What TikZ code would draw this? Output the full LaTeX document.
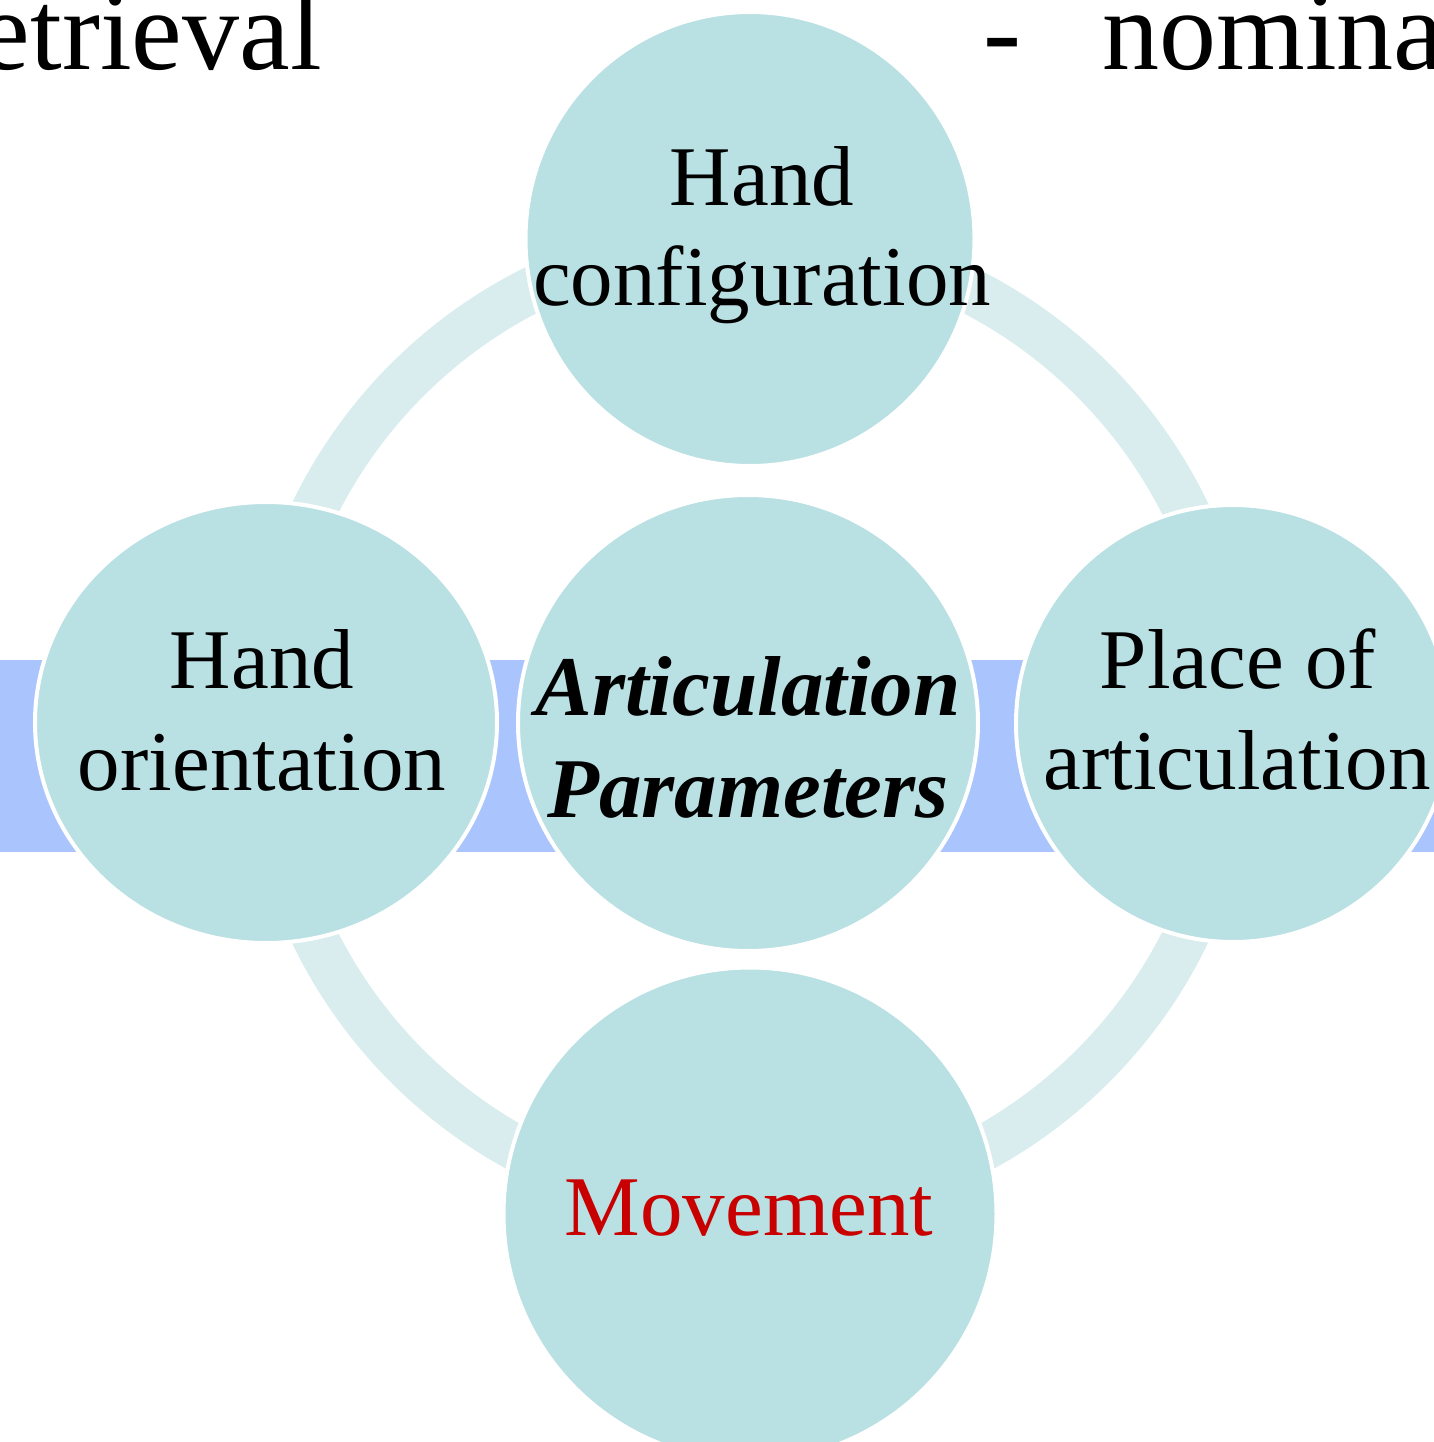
\documentclass[tikz,border=0pt]{standalone}
\usepackage{fontspec}
\setmainfont{Liberation Serif}
\usetikzlibrary{shapes.geometric}
\definecolor{bubble}{HTML}{B9E0E3}
\definecolor{ringcol}{HTML}{DAEDEE}
\definecolor{bandcol}{HTML}{AAC5FD}
\definecolor{movred}{HTML}{C80000}
\tikzset{
  bub/.style={ellipse, fill=bubble, draw=white, line width=2pt, inner sep=0pt},
  lbl/.style={anchor=base, inner sep=0pt, font=\fontsize{42.5}{50}\selectfont},
  blbl/.style={anchor=base, inner sep=0pt, font=\fontsize{42.5}{50}\selectfont\bfseries\itshape},
  toptext/.style={inner sep=0pt, font=\fontsize{57}{62}\selectfont}
}
\begin{document}
\begin{tikzpicture}[x=0.5pt,y=-0.5pt]
\useasboundingbox (0,0) rectangle (1434,1442);
% top running text
\node[toptext, anchor=base east] (t1) at (322,69) {etrieval};
\node[toptext, anchor=base west] (t2) at (983,69) {-};
\node[toptext, anchor=base west] (t3) at (1102,69) {nomina};
% band
\fill[bandcol] (0,660) rectangle (1434,852);
% ring
\coordinate (ringc) at (750,723);
\draw[ringcol, line width=23pt] (ringc) circle[radius=485];
% circles
\node[bub, minimum width=224.5pt, minimum height=227pt] (top) at (750,239) {};
\node[bub, minimum width=231pt, minimum height=220.5pt] (left) at (266,722.5) {};
\node[bub, minimum width=230pt, minimum height=228pt] (center) at (748,723) {};
\node[bub, minimum width=217pt, minimum height=218.5pt] (right) at (1233,723.5) {};
\node[bub, minimum width=246.5pt, minimum height=246.5pt] (bottom) at (750,1214) {};
% labels
\node[lbl] (top1) at (762,205) {Hand};
\node[lbl] (top2) at (762,305) {configuration};
\node[lbl] (left1) at (262,688) {Hand};
\node[lbl] (left2) at (262,790) {orientation};
\node[blbl] (c1) at (748,715) {Articulation};
\node[blbl] (c2) at (748,817) {Parameters};
\node[lbl] (right1) at (1238,688) {Place of};
\node[lbl] (right2) at (1237,789) {articulation};
\node[lbl, text=movred] (b1) at (749,1235) {Movement};
\end{tikzpicture}
\end{document}
